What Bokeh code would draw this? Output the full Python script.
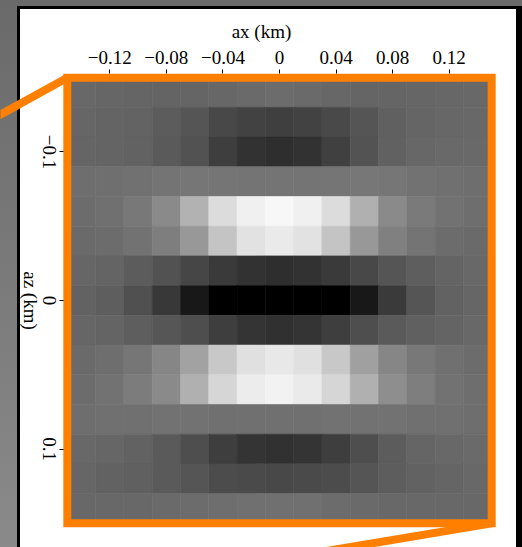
import math

from bokeh.embed import file_html
from bokeh.models import (ColumnDataSource, CustomJSTickFormatter, FixedTicker,
                          LinearColorMapper, Range1d)
from bokeh.core.properties import value
from bokeh.plotting import figure
from bokeh.resources import INLINE
from bokeh.transform import transform

# Cell centres of the zoomed panel (km)
ax_km = [-0.14, -0.12, -0.10, -0.08, -0.06, -0.04, -0.02, 0.0,
         0.02, 0.04, 0.06, 0.08, 0.10, 0.12, 0.14]
az_km = [-0.14, -0.12, -0.10, -0.08, -0.06, -0.04, -0.02, 0.0,
         0.02, 0.04, 0.06, 0.08, 0.10, 0.12, 0.14]

# Gray level per cell (0 = black, 255 = white); one row per az value
intensity = [
    [104, 102, 101, 100, 101, 103, 106, 108, 106, 103, 101, 101, 102, 103, 104],
    [102, 100, 99, 92, 85, 72, 66, 63, 66, 73, 85, 96, 101, 103, 104],
    [101, 100, 98, 90, 82, 62, 50, 46, 50, 64, 83, 97, 103, 105, 105],
    [110, 111, 113, 116, 118, 117, 116, 116, 116, 117, 119, 118, 114, 112, 110],
    [108, 112, 120, 138, 178, 220, 240, 247, 240, 220, 176, 138, 122, 114, 110],
    [106, 108, 114, 126, 152, 196, 226, 234, 226, 196, 152, 128, 116, 108, 106],
    [102, 100, 92, 82, 70, 58, 50, 46, 50, 58, 72, 85, 94, 100, 104],
    [98, 94, 80, 56, 24, 0, 0, 0, 0, 0, 24, 58, 85, 98, 102],
    [102, 100, 94, 86, 78, 62, 52, 48, 52, 62, 78, 90, 96, 100, 104],
    [106, 110, 118, 134, 162, 200, 224, 232, 224, 200, 160, 134, 120, 112, 108],
    [108, 114, 124, 138, 176, 214, 236, 242, 234, 214, 176, 142, 126, 114, 110],
    [110, 112, 112, 114, 114, 112, 112, 112, 112, 114, 114, 114, 112, 112, 110],
    [104, 102, 98, 90, 78, 62, 52, 49, 52, 62, 78, 92, 101, 104, 106],
    [102, 98, 96, 90, 85, 76, 74, 72, 74, 76, 85, 93, 98, 101, 104],
    [104, 104, 104, 106, 108, 110, 112, 112, 112, 108, 106, 104, 104, 104, 104],
]

x_ticks = [-0.12, -0.08, -0.04, 0.0, 0.04, 0.08, 0.12]
x_tick_labels = ["\u22120.12", "\u22120.08", "\u22120.04", "0", "0.04", "0.08", "0.12"]
z_ticks = [-0.1, 0.0, 0.1]
z_tick_labels = ["\u22120.1", "0", "0.1"]
x_title = "ax (km)"
z_title = "az (km)"

# connector lines of the zoom box: (start corner, far end) in km
connector_x0 = [-0.15, 0.15]
connector_z0 = [-0.15, 0.15]
connector_x1 = [-0.212, -0.0207]
connector_z1 = [-0.1174, 0.1772]

CELL = 0.02
HALF = 0.15            # half extent of the panel
XR, ZR = 0.1527, 0.1528  # visible half extent around the panel (outer edge of frame)
W, H = 522, 547
# pixel edges of the panel on the page
PX_L, PX_R, PX_T, PX_B = 63, 495, 73, 527
ORANGE = "#ff8000"
FONT = "Liberation Serif"
FS = "19px"

# the plotting frame covers the whole page; panel edges sit at +-XR / +-ZR
kx = (PX_R - PX_L) / (2 * XR)
kz = (PX_B - PX_T) / (2 * ZR)
x_range = Range1d(-XR - PX_L / kx, XR + (W - PX_R) / kx)
z_range = Range1d(ZR + (H - PX_B) / kz, -ZR - PX_T / kz)

xs, zs, vs = [], [], []
for i, z in enumerate(az_km):
    for j, x in enumerate(ax_km):
        xs.append(x)
        zs.append(z)
        vs.append(intensity[i][j])
source = ColumnDataSource(dict(x=xs, z=zs, v=vs))

gray = ["#%02x%02x%02x" % (k, k, k) for k in range(256)]
mapper = LinearColorMapper(palette=gray, low=0, high=255)

p = figure(
    width=W, height=H,
    x_range=x_range, y_range=z_range,
    x_axis_location="above",
    min_border=0, min_border_left=0, min_border_right=0,
    min_border_top=0, min_border_bottom=0,
    toolbar_location=None, output_backend="svg",
    border_fill_color=None, background_fill_color=None,
    outline_line_color=None,
    styles={
        "background": (
            "linear-gradient(#ffffff, #ffffff) 20px 9px / 496px 540px no-repeat, "
            "linear-gradient(#000000, #000000) 17px 6px / 505px 545px no-repeat, "
            "linear-gradient(to bottom, #6a6a6a, #8a8a8a)"
        )
    },
)
p.grid.visible = False

# connectors run underneath the frame
p.segment(x0=connector_x0, y0=connector_z0, x1=connector_x1, y1=connector_z1,
          line_color=ORANGE, line_width=8, line_cap="butt")

p.rect(x="x", y="z", width=CELL, height=CELL, source=source,
       fill_color=transform("v", mapper), line_color=transform("v", mapper),
       line_width=0.6)

# orange frame around the zoomed panel
p.rect(x=[0.0], y=[0.0], width=[2 * HALF], height=[2 * HALF],
       fill_color=None, line_color=ORANGE, line_width=8, line_join="miter")

code = """
let best = 0;
for (let i = 1; i < tick_values.length; i++) {
  if (Math.abs(tick_values[i] - tick) < Math.abs(tick_values[best] - tick)) best = i;
}
return tick_labels[best];
"""

xa = p.xaxis[0]
xa.fixed_location = -ZR
xa.ticker = FixedTicker(ticks=x_ticks)
xa.formatter = CustomJSTickFormatter(
    args=dict(tick_values=x_ticks, tick_labels=x_tick_labels), code=code)
xa.axis_label = x_title
xa.major_label_text_font = FONT
xa.major_label_text_font_size = FS
xa.major_label_text_color = "black"
xa.major_label_standoff = 6
xa.axis_label_text_font = FONT
xa.axis_label_text_font_size = FS
xa.axis_label_text_font_style = "normal"
xa.axis_label_text_color = "black"
xa.axis_label_standoff = 6

ya = p.yaxis[0]
ya.fixed_location = -XR
ya.ticker = FixedTicker(ticks=z_ticks)
ya.major_label_text_color = None
ya.major_label_text_font_size = "0px"

for a in (xa, ya):
    a.axis_line_color = None
    a.major_tick_in = 0
    a.major_tick_out = 4
    a.major_tick_line_color = "black"
    a.minor_tick_line_color = None

# left tick labels and title, reading top to bottom
p.text(x=[-XR] * len(z_ticks), y=z_ticks, text=z_tick_labels,
       x_offset=-14, angle=-math.pi / 2,
       text_align="center", text_baseline="middle",
       text_font=value(FONT), text_font_size=FS, text_color="black")
p.text(x=[-XR], y=[0.0], text=[z_title],
       x_offset=-33, angle=-math.pi / 2,
       text_align="center", text_baseline="middle",
       text_font=value(FONT), text_font_size=FS, text_color="black")

open("out.html", "w").write(file_html(p, INLINE))
